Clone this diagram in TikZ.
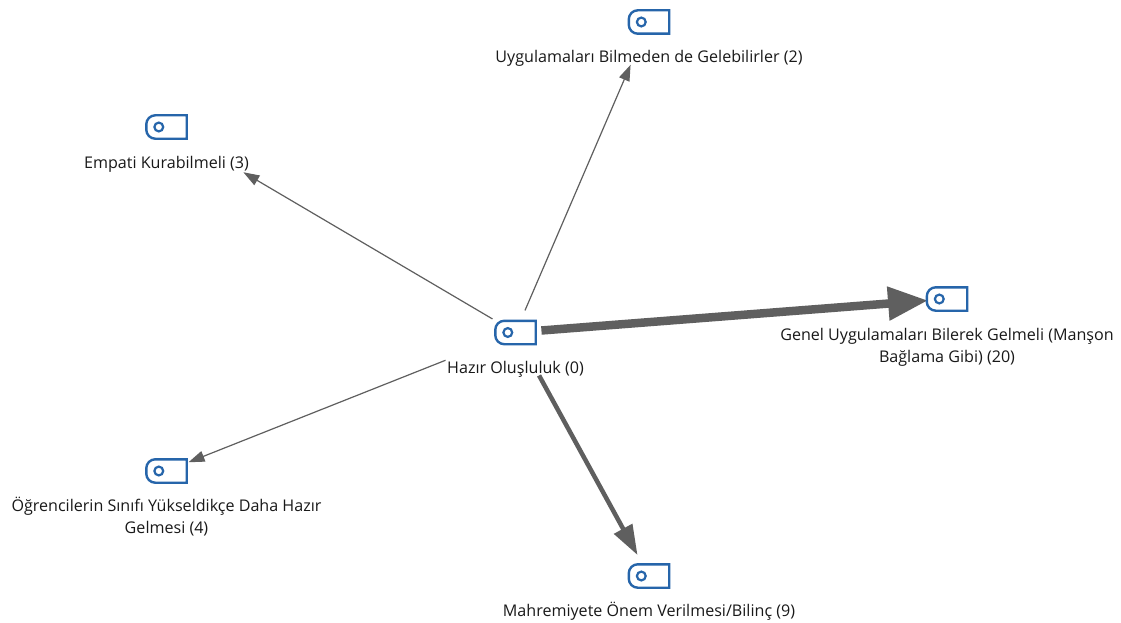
\documentclass[tikz,border=0pt]{standalone}
\usepackage{fontspec}
\setmainfont{Open Sans}
\usetikzlibrary{arrows.meta,calc}
\definecolor{tagblue}{RGB}{38,101,170}
\definecolor{edgegray}{RGB}{95,95,95}
\tikzset{
  tagicon/.style={minimum width=40pt,minimum height=23pt,inner sep=0pt,draw=none},
  lbl/.style={inner sep=0pt,align=center,text=black!90,font=\fontsize{16.1}{22}\selectfont,anchor=base},
  edge/.style={draw=edgegray,line cap=butt},
  thinedge/.style={edge,line width=1.2pt,-{Triangle[length=16pt,width=11pt]}},
}
\newcommand{\tagshape}[1]{%
  \draw[tagblue,line width=2.4pt,line join=miter]
    (#1.north east) -- ([xshift=9pt]#1.north west)
    .. controls ([xshift=4pt]#1.north west) and ([yshift=-4pt]#1.north west) .. ([yshift=-9pt]#1.north west)
    -- ([yshift=9pt]#1.south west)
    .. controls ([yshift=4pt]#1.south west) and ([xshift=4pt]#1.south west) .. ([xshift=9pt]#1.south west)
    -- (#1.south east) -- cycle;
  \draw[tagblue,line width=2.2pt] ([xshift=12.5pt]#1.west) circle[radius=4.4pt];
}
\begin{document}
\begin{tikzpicture}[x=1pt,y=-1pt]
\useasboundingbox (0,0) rectangle (1121,623);
\fill[white] (0,0) rectangle (1121,623);
% icons
\node[tagicon] (hub) at (515.5,332.5) {};
\node[tagicon] (uyg) at (649,22) {};
\node[tagicon] (emp) at (166.5,127) {};
\node[tagicon] (gen) at (947,299) {};
\node[tagicon] (ogr) at (166.5,471) {};
\node[tagicon] (mah) at (649,576) {};
% edges
\draw[thinedge,shorten <=24pt,shorten >=46.6pt] (hub.center) -- (uyg.center);
\draw[thinedge,shorten <=26.7pt,shorten >=89.2pt] (hub.center) -- (emp.center);
\draw[thinedge,shorten <=75.3pt,shorten >=23.7pt] (hub.center) -- (ogr.center);
\draw[edge,line width=8.5pt,shorten <=26pt,shorten >=19pt,-{Triangle[length=40pt,width=32pt]}] (hub.center) -- (gen.center);
\draw[edge,line width=4.5pt,shorten <=49pt,shorten >=23.9pt,-{Triangle[length=30pt,width=20pt]}] (hub.center) -- (mah.center);
% icon drawings
\foreach \n in {hub,uyg,emp,gen,ogr,mah} {\tagshape{\n}}
% labels
\node[lbl] (hubL) at ($(hub.center)+(0,41)$) {Hazır Oluşluluk (0)};
\node[lbl] (uygL) at ($(uyg.center)+(0,41)$) {Uygulamaları Bilmeden de Gelebilirler (2)};
\node[lbl] (empL) at ($(emp.center)+(0,41)$) {Empati Kurabilmeli (3)};
\node[lbl] (genL) at ($(gen.center)+(0,63)$) {Genel Uygulamaları Bilerek Gelmeli (Manşon\\Bağlama Gibi) (20)};
\node[lbl] (ogrL) at ($(ogr.center)+(0,62)$) {Öğrencilerin Sınıfı Yükseldikçe Daha Hazır\\Gelmesi (4)};
\node[lbl] (mahL) at ($(mah.center)+(0,40)$) {Mahremiyete Önem Verilmesi/Bilinç (9)};
\end{tikzpicture}
\end{document}
